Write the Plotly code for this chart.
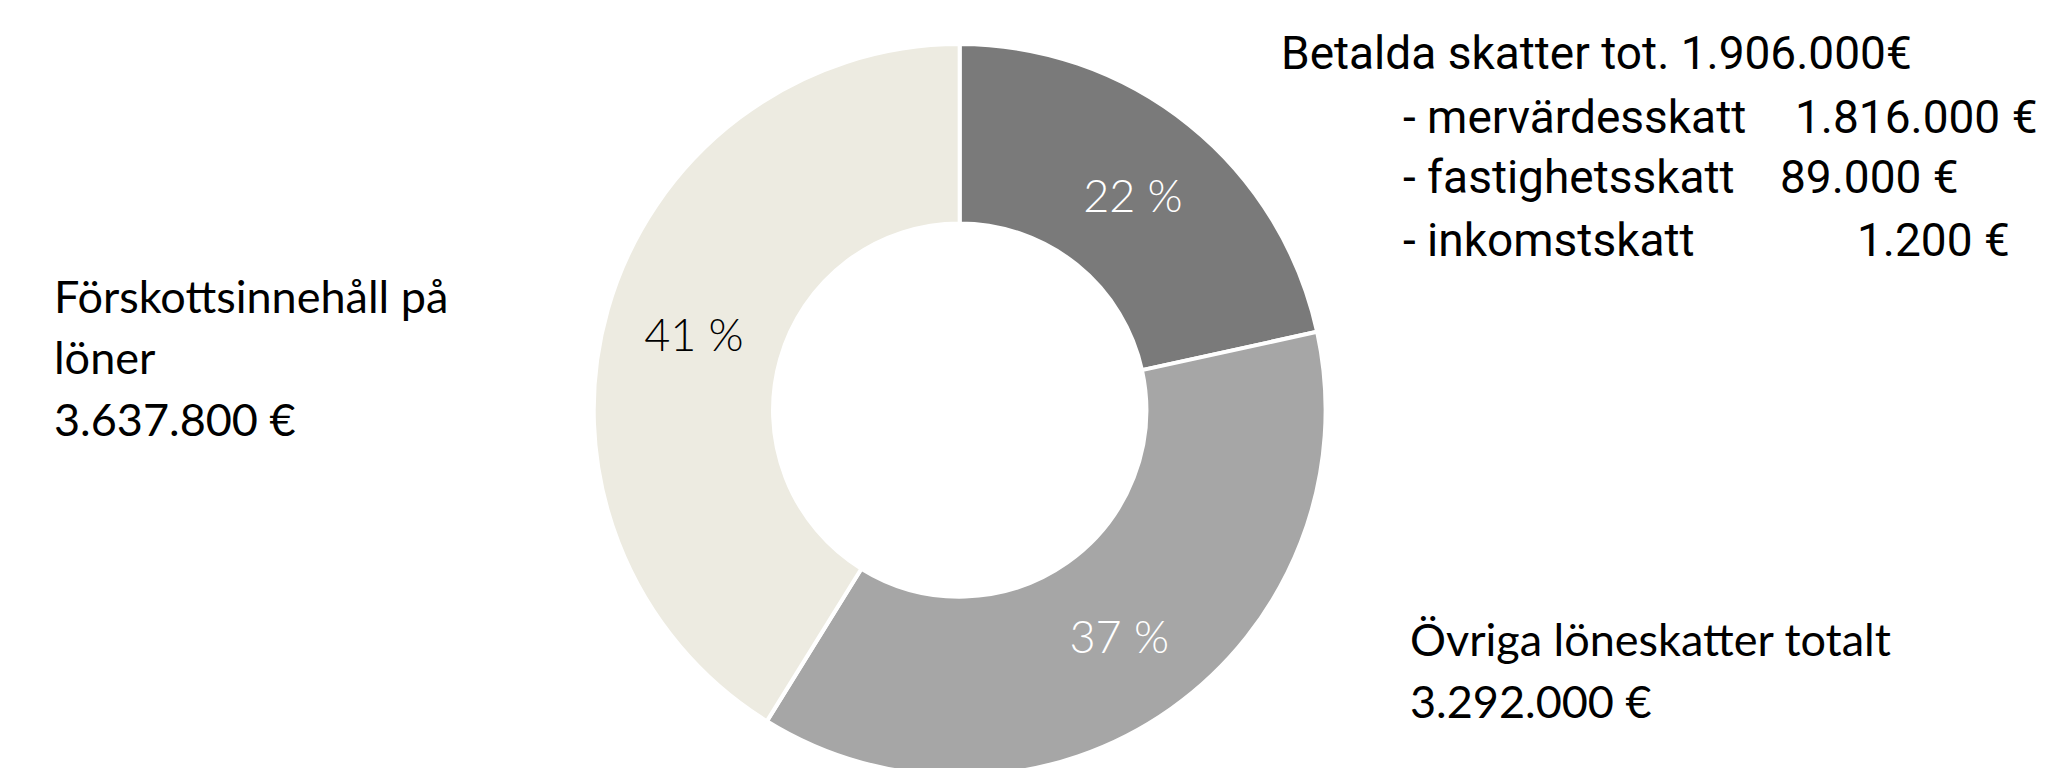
import plotly.graph_objects as go

# Skatter fördelade per typ (euro)
labels = ['Betalda skatter', 'Övriga löneskatter', 'Förskottsinnehåll på löner']
values = [1906000, 3292000, 3637800]
colors = ['#7a7a7a', '#a6a6a6', '#edebe1']
text_colors = ['white', 'white', 'black']

total = sum(values)
pct_text = [f'{round(v / total * 100)} %' for v in values]

# Texter runt diagrammet
tax_head = 'Betalda skatter tot. 1.906.000€'
tax_names = ['- mervärdesskatt', '- fastighetsskatt', '- inkomstskatt']
tax_amounts = ['1.816.000 €', '89.000 €', '1.200 €']
left_lines = ['Förskottsinnehåll på', 'löner', '3.637.800 €']
right_lines = ['Övriga löneskatter totalt', '3.292.000 €']

W, H = 2051, 768

fig = go.Figure()
fig.add_trace(go.Pie(
    labels=labels,
    values=values,
    text=pct_text,
    textinfo='text',
    textposition='inside',
    insidetextorientation='horizontal',
    insidetextfont=dict(color=text_colors, size=45, family='Lato', weight=300),
    marker=dict(colors=colors, line=dict(color='white', width=4)),
    hole=0.51,
    sort=False,
    direction='clockwise',
    rotation=0,
    domain=dict(x=[0.264, 0.664], y=[0.0, 0.953]),
    showlegend=False,
))


def px(x, y):
    return x / W, 1 - y / H


annots = []
narrow = dict(family='Roboto, sans-serif', size=46, color='black')
normal = dict(family='Lato, sans-serif', size=45, color='black')

x, y = px(1271, 45)
annots.append(dict(x=x, y=y, text=tax_head, font=narrow))
name_y = [109, 169, 232]
amount_x = [1785, 1770, 1847]
for n, a, yy, ax in zip(tax_names, tax_amounts, name_y, amount_x):
    x, y = px(1393, yy)
    annots.append(dict(x=x, y=y, text=n, font=narrow))
    x, y = px(ax, yy)
    annots.append(dict(x=x, y=y, text=a, font=narrow))

for t, yy in zip(left_lines, [288, 349, 411]):
    x, y = px(44, yy)
    annots.append(dict(x=x, y=y, text=t, font=normal))

for t, yy in zip(right_lines, [631, 693]):
    x, y = px(1400, yy)
    annots.append(dict(x=x, y=y, text=t, font=normal))

for a in annots:
    a.update(xref='paper', yref='paper', xanchor='left', yanchor='middle', showarrow=False)

fig.update_layout(
    width=W, height=H,
    margin=dict(l=0, r=0, t=0, b=0),
    paper_bgcolor='white',
    plot_bgcolor='white',
    annotations=annots,
)

fig.write_html('out.html')
